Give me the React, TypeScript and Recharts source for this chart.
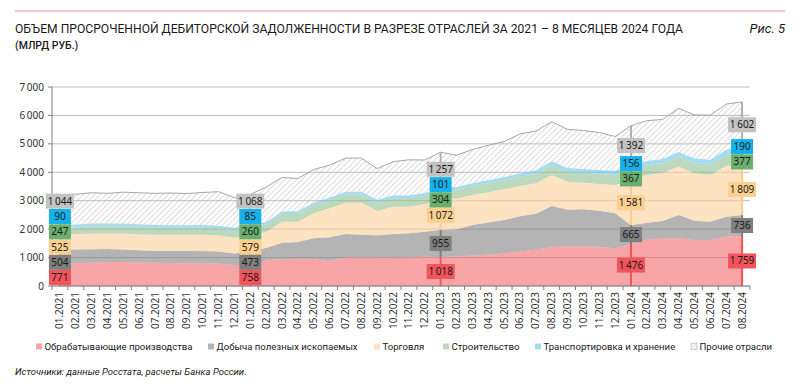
import React from 'react';
import { AreaChart, Area, XAxis, YAxis, CartesianGrid, ReferenceLine, ReferenceDot } from 'recharts';

// months 01.2021 – 08.2024
const months = [
  '01.2021', '02.2021', '03.2021', '04.2021', '05.2021', '06.2021', '07.2021', '08.2021', '09.2021', '10.2021', '11.2021', '12.2021',
  '01.2022', '02.2022', '03.2022', '04.2022', '05.2022', '06.2022', '07.2022', '08.2022', '09.2022', '10.2022', '11.2022', '12.2022',
  '01.2023', '02.2023', '03.2023', '04.2023', '05.2023', '06.2023', '07.2023', '08.2023', '09.2023', '10.2023', '11.2023', '12.2023',
  '01.2024', '02.2024', '03.2024', '04.2024', '05.2024', '06.2024', '07.2024', '08.2024',
];

// млрд руб.
const manufacturing = [
  771, 800, 820, 840, 845, 830, 820, 810, 800, 790, 780, 740,
  758, 900, 940, 960, 950, 870, 1000, 1010, 1000, 1000, 1015, 1025,
  1018, 1040, 1070, 1100, 1150, 1210, 1280, 1360, 1400, 1390, 1380, 1330,
  1476, 1640, 1670, 1680, 1620, 1620, 1730, 1759,
];
const mining = [
  504, 480, 470, 460, 440, 430, 420, 430, 440, 440, 430, 400,
  473, 440, 584, 587, 726, 841, 828, 795, 782, 828, 837, 886,
  955, 960, 1080, 1130, 1170, 1240, 1260, 1453, 1280, 1306, 1270, 1225,
  665, 588, 616, 817, 678, 643, 708, 736,
];
const trade = [
  525, 540, 560, 550, 560, 560, 560, 560, 560, 570, 570, 570,
  579, 560, 738, 715, 879, 1020, 1102, 1125, 855, 962, 938, 961,
  1072, 1080, 1050, 1070, 1080, 1070, 1070, 1091, 989, 938, 937, 997,
  1581, 1676, 1700, 1700, 1664, 1641, 1782, 1809,
];
const construction = [
  247, 250, 255, 255, 260, 260, 255, 250, 250, 255, 255, 250,
  260, 265, 270, 275, 280, 285, 290, 290, 300, 295, 295, 300,
  304, 300, 305, 310, 315, 320, 330, 350, 345, 345, 350, 355,
  367, 340, 335, 355, 360, 365, 385, 377,
];
const transport = [
  90, 90, 90, 90, 90, 90, 88, 88, 88, 88, 86, 85,
  85, 85, 88, 90, 92, 93, 95, 95, 95, 97, 98, 100,
  101, 100, 105, 110, 115, 120, 125, 135, 135, 138, 140, 145,
  156, 150, 150, 160, 165, 170, 185, 190,
];
const other = [
  1044, 1070, 1085, 1065, 1105, 1110, 1117, 1132, 1112, 1147, 1196, 1062,
  1068, 1230, 1200, 1153, 1173, 1141, 1185, 1185, 1098, 1188, 1257, 1158,
  1257, 1120, 1190, 1230, 1250, 1390, 1385, 1391, 1361, 1353, 1323, 1208,
  1392, 1421, 1389, 1538, 1533, 1571, 1610, 1602,
];

const labelledMonths = ['01.2021', '01.2022', '01.2023', '01.2024', '08.2024'];
const yTicks = [0, 1000, 2000, 3000, 4000, 5000, 6000, 7000];

const series = [
  { key: 'manufacturing', name: 'Обрабатывающие производства', values: manufacturing, fill: '#f3696e', swatch: '#f8a5a8', box: '#f2545b', line: '#f0555a' },
  { key: 'mining', name: 'Добыча полезных ископаемых', values: mining, fill: '#828282', swatch: '#b4b4b4', box: '#7f7f7f', line: '#7f7f7f' },
  { key: 'trade', name: 'Торговля', values: trade, fill: '#fcd099', swatch: '#fde3c2', box: '#fdd092', line: '#fbc98a' },
  { key: 'construction', name: 'Строительство', values: construction, fill: '#8fc091', swatch: '#bcd9bd', box: '#6aaf6d', line: '#6aaf6d' },
  { key: 'transport', name: 'Транспортировка и хранение', values: transport, fill: '#6bc5e9', swatch: '#a6dcf2', box: '#16b1ea', line: '#16b1ea' },
  { key: 'other', name: 'Прочие отрасли', values: other, fill: 'url(#hatch)', swatch: 'url(#hatchLegend)', box: '#c3c3c3', line: '#b0b0b0' },
];

const rows = months.map((month, i) => {
  const row: Record<string, string | number> = { month };
  series.forEach((s) => { row[s.key] = s.values[i]; });
  return row;
});

// chart geometry
const W = 800;
const H = 387;
const MARGIN = { top: 87, right: 50, left: 0, bottom: 61 };
const Y_AXIS_W = 52;
const STEP = (W - MARGIN.right - Y_AXIS_W) / months.length;
const LABEL_GAP = 540; // min distance between label boxes, in data units

const FONT = '"Noto Sans", sans-serif';
const FONT_NARROW = 'Roboto, sans-serif';

const fmt = (v: number) => (v >= 1000 ? `${Math.floor(v / 1000)}\u2009${String(v % 1000).padStart(3, '0')}` : String(v));

// label boxes sit at the segment middle, nudged apart where segments are thin
function labelPositions(i: number) {
  let base = 0;
  const segs = series.map((s) => {
    const lo = base;
    base += s.values[i];
    return { lo, hi: base, y: (lo + base) / 2 };
  });
  for (let it = 0; it < 30; it++) {
    for (let k = 1; k < segs.length; k++) {
      const d = segs[k].y - segs[k - 1].y;
      if (d < LABEL_GAP) {
        const push = (LABEL_GAP - d) / 2;
        segs[k].y += push;
        segs[k - 1].y -= push;
      }
    }
    if (segs[0].y < 300) segs[0].y = 300;
  }
  return segs;
}

const LabelBox = ({ cx, cy, text, color }: { cx?: number; cy?: number; text: string; color: string }) => {
  if (cx == null || cy == null) return null;
  const w = text.length > 3 ? 28 : 22;
  return (
    <g>
      <rect x={cx - w / 2} y={cy - 7.5} width={w} height={15} fill={color} />
      <text x={cx} y={cy} dy="0.35em" textAnchor="middle" fontSize={10} fontFamily={FONT} fill="#1a1a1a">{text}</text>
    </g>
  );
};

const MonthTick = (props: any) => {
  const { x, y, payload, index } = props;
  const ty = y + 6;
  return (
    <g>
      <line x1={x - STEP / 2} x2={x - STEP / 2} y1={y} y2={y + 4} stroke="#7f7f7f" />
      {index === months.length - 1 && <line x1={x + STEP / 2} x2={x + STEP / 2} y1={y} y2={y + 4} stroke="#7f7f7f" />}
      <text x={x} y={ty} dy="0.35em" textAnchor="end" transform={`rotate(-90, ${x}, ${ty})`} fontSize={10} fontFamily={FONT} fill="#333">
        {payload.value}
      </text>
    </g>
  );
};

const legendX = [36, 208, 374, 443, 535, 691];

export default function App() {
  const labels = labelledMonths.map((m) => ({ m, segs: labelPositions(months.indexOf(m)), i: months.indexOf(m) }));

  return (
    <div style={{ position: 'absolute', left: 0, top: 0, width: W, height: H, background: '#fff', overflow: 'hidden' }}>
      <div style={{ position: 'absolute', left: 15, top: 10, width: 770, height: 1.5, background: '#f5c6cf' }} />
      <AreaChart width={W} height={H} data={rows} margin={MARGIN}>
        <defs>
          <pattern id="hatch" width="4" height="4" patternUnits="userSpaceOnUse" patternTransform="rotate(45)">
            <line x1="0" y1="0" x2="0" y2="4" stroke="#b8b8b8" strokeWidth="1" />
          </pattern>
        </defs>
        <CartesianGrid vertical={false} stroke="#bdbdbd" />
        <XAxis
          dataKey="month"
          interval={0}
          height={40}
          tickSize={0}
          tickMargin={0}
          tickLine={false}
          tick={<MonthTick />}
          axisLine={{ stroke: '#7f7f7f' }}
          padding={{ left: STEP / 2, right: STEP / 2 }}
        />
        <YAxis
          width={Y_AXIS_W}
          domain={[0, 7000]}
          ticks={yTicks}
          interval={0}
          tickSize={4}
          tickMargin={4}
          tickFormatter={(v: number) => (v === 0 ? '0' : `${v / 1000}\u2009000`)}
          tick={{ fontSize: 10, fill: '#333', fontFamily: FONT }}
          axisLine={{ stroke: '#7f7f7f' }}
          tickLine={{ stroke: '#7f7f7f' }}
        />
        {series.map((s) => (
          <Area
            key={s.key}
            type="linear"
            dataKey={s.key}
            name={s.name}
            stackId="a"
            fill={s.fill}
            fillOpacity={s.key === 'other' ? 1 : 0.6}
            stroke={s.key === 'other' ? '#a6a6a6' : 'none'}
            strokeWidth={1}
            dot={false}
            activeDot={false}
            isAnimationActive={false}
          />
        ))}
        {labels.flatMap(({ m, segs }) =>
          segs.map((sg, k) => (
            <ReferenceLine
              key={`l-${m}-${k}`}
              segment={[{ x: m, y: sg.lo }, { x: m, y: sg.hi }]}
              stroke={series[k].line}
              strokeWidth={2}
              ifOverflow="visible"
            />
          )),
        )}
        {labels.flatMap(({ m, segs, i }) =>
          segs.map((sg, k) => (
            <ReferenceDot
              key={`d-${m}-${k}`}
              x={m}
              y={sg.y}
              ifOverflow="visible"
              shape={(p: any) => <LabelBox cx={p.cx} cy={p.cy} text={fmt(series[k].values[i])} color={series[k].box} />}
            />
          )),
        )}
      </AreaChart>

      <svg width={W} height={H} style={{ position: 'absolute', left: 0, top: 0, pointerEvents: 'none' }}>
        <defs>
          <pattern id="hatchLegend" width="2.5" height="2.5" patternUnits="userSpaceOnUse" patternTransform="rotate(45)">
            <line x1="0" y1="0" x2="0" y2="2.5" stroke="#aaa" strokeWidth="0.8" />
          </pattern>
        </defs>
        <text x={15} y={33} fontSize={13} fontFamily={FONT_NARROW} fill="#1a1a1a" textLength={668} lengthAdjust="spacingAndGlyphs">
          ОБЪЕМ ПРОСРОЧЕННОЙ ДЕБИТОРСКОЙ ЗАДОЛЖЕННОСТИ В РАЗРЕЗЕ ОТРАСЛЕЙ ЗА 2021 – 8 МЕСЯЦЕВ 2024 ГОДА
        </text>
        <text x={15} y={49} fontSize={10.5} fontFamily={FONT_NARROW} fontWeight={500} fill="#1a1a1a">
          (МЛРД РУБ.)
        </text>
        <text x={785} y={33} fontSize={13} fontStyle="italic" fontFamily={FONT_NARROW} fill="#1a1a1a" textAnchor="end">
          Рис. 5
        </text>

        {series.map((s, k) => (
          <g key={s.key}>
            <rect
              x={legendX[k]}
              y={343.5}
              width={6}
              height={6}
              fill={s.swatch}
              stroke={s.key === 'other' ? '#b0b0b0' : 'none'}
              strokeWidth={0.6}
            />
            <text x={legendX[k] + 8.5} y={350} fontSize={9.6} fontFamily={FONT_NARROW} fill="#1a1a1a">{s.name}</text>
          </g>
        ))}

        <text x={15} y={375} fontSize={9.5} fontStyle="italic" fontFamily={FONT_NARROW} fill="#1a1a1a">
          Источники: данные Росстата, расчеты Банка России.
        </text>
      </svg>
    </div>
  );
}
